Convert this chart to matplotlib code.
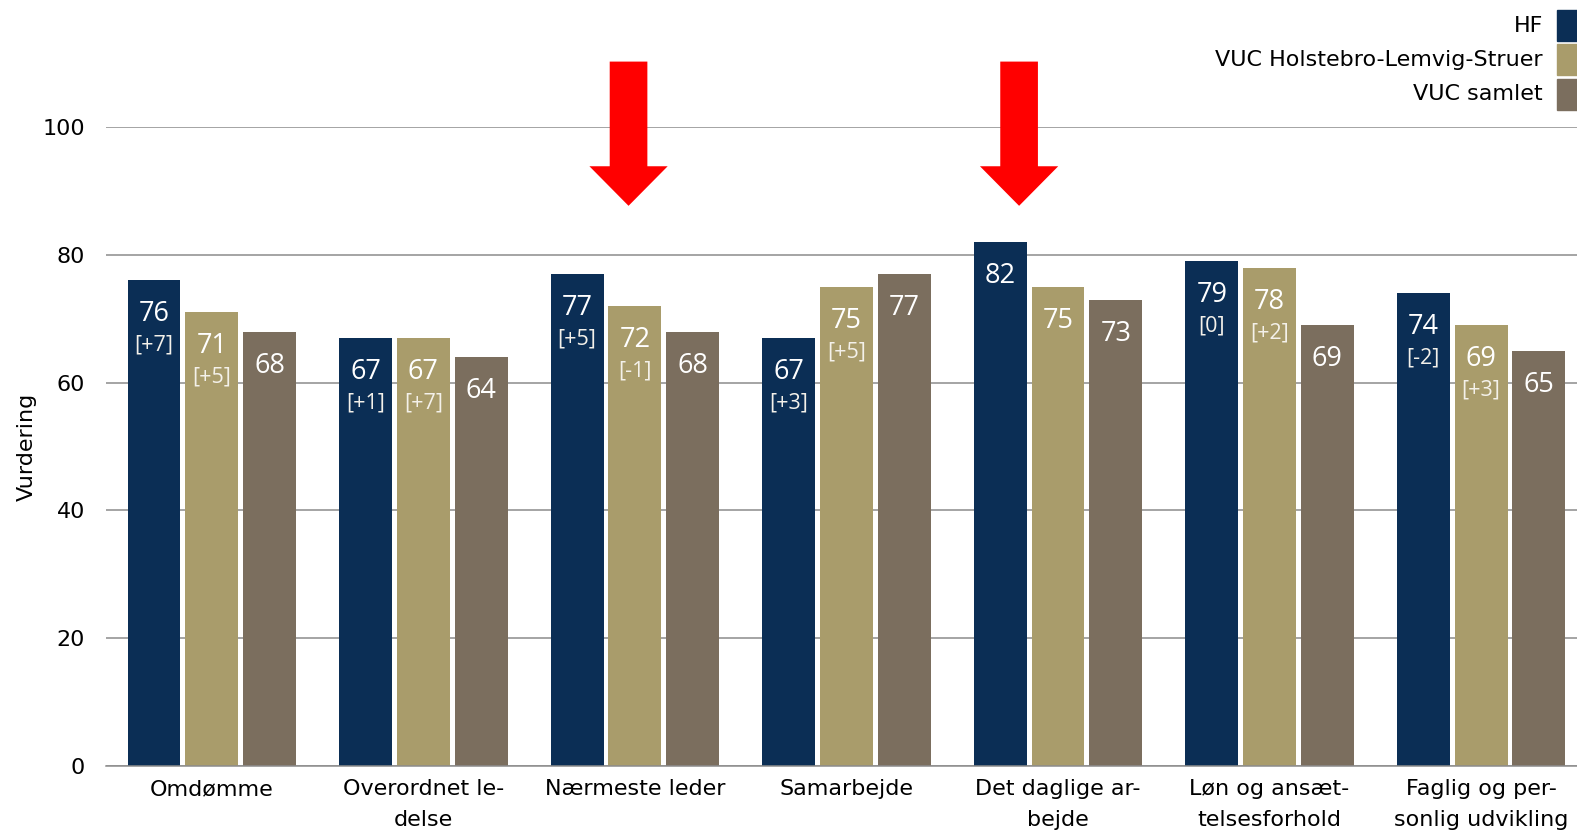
import numpy as np
import matplotlib
matplotlib.use("Agg")
import matplotlib.pyplot as plt
from matplotlib.patches import FancyArrow, Rectangle

categories = ["Omdømme", "Overordnet le-\ndelse", "Nærmeste leder", "Samarbejde",
              "Det daglige ar-\nbejde", "Løn og ansæt-\ntelsesforhold",
              "Faglig og per-\nsonlig udvikling"]
series_names = ["HF", "VUC Holstebro-Lemvig-Struer", "VUC samlet"]
hf = [76, 67, 77, 67, 82, 79, 74]
vuc_hls = [71, 67, 72, 75, 75, 78, 69]
vuc_all = [68, 64, 68, 77, 73, 69, 65]
hf_delta = ["[+7]", "[+1]", "[+5]", "[+3]", "", "[0]", "[-2]"]
hls_delta = ["[+5]", "[+7]", "[-1]", "[+5]", "", "[+2]", "[+3]"]
all_delta = ["", "", "", "", "", "", ""]
arrow_at = [1.97, 3.816]   # red markers above two of the groups

colors = ["#0b2e55", "#a99c6b", "#7b6e5e"]
GRID = "#8c8c8c"
W, STEP = 0.25, 0.273

plt.rcParams["font.family"] = "DejaVu Sans"
fig = plt.figure(figsize=(15.77, 8.36), dpi=100)
ax = fig.add_axes([0.0672, 0.0843, 0.9391, 0.7634])

x = np.arange(len(categories))
for k, (vals, deltas, col) in enumerate(zip([hf, vuc_hls, vuc_all],
                                            [hf_delta, hls_delta, all_delta], colors)):
    xs = x + (k - 1) * STEP
    ax.bar(xs, vals, width=W, color=col, zorder=2)
    for xi, v, d in zip(xs, vals, deltas):
        ax.annotate(f"{v}", (xi, v), xytext=(0, -34), textcoords="offset pixels",
                    ha="center", va="center", color="white", fontsize=19.5,
                    family="Open Sans", zorder=3)
        if d:
            ax.annotate(d, (xi, v), xytext=(0, -65), textcoords="offset pixels",
                        ha="center", va="center", color="#f4f1ea", fontsize=15.5,
                        family="Open Sans", zorder=3)

for xa in arrow_at:
    ax.add_patch(FancyArrow(xa, 110.3, 0, -22.6, width=0.178, head_width=0.37,
                            head_length=6.2, length_includes_head=True,
                            color="#ff0000", lw=0, clip_on=False, zorder=4))

ax.set_xlim(-0.5, 6.5)
ax.set_ylim(0, 100)
ax.set_yticks(range(0, 101, 20))
ax.set_xticks(x)
ax.set_xticklabels(categories, fontsize=16, linespacing=1.68)
ax.tick_params(axis="both", length=0, labelsize=16)
ax.tick_params(axis="y", pad=15)
ax.tick_params(axis="x", pad=10)
ax.grid(axis="y", color=GRID, lw=1.1, zorder=0)
ax.set_axisbelow(True)
for s in ["top", "right", "left"]:
    ax.spines[s].set_visible(False)
ax.spines["bottom"].set_color(GRID)
ax.spines["bottom"].set_linewidth(1.1)
ax.set_ylabel("Vurdering", fontsize=16, labelpad=4)

# legend: right-aligned labels with colour squares at the right edge
FW, FH = 1577, 836
for i, (name, col) in enumerate(zip(series_names, colors)):
    cy = 25.5 + i * 34.3
    fig.text(1543 / FW, 1 - cy / FH, name, ha="right", va="center", fontsize=16)
    fig.patches.append(Rectangle((1557 / FW, 1 - (cy + 15.5) / FH), 31 / FW, 31 / FH,
                                 transform=fig.transFigure, color=col, figure=fig))

fig.savefig("out.png", dpi=100)
